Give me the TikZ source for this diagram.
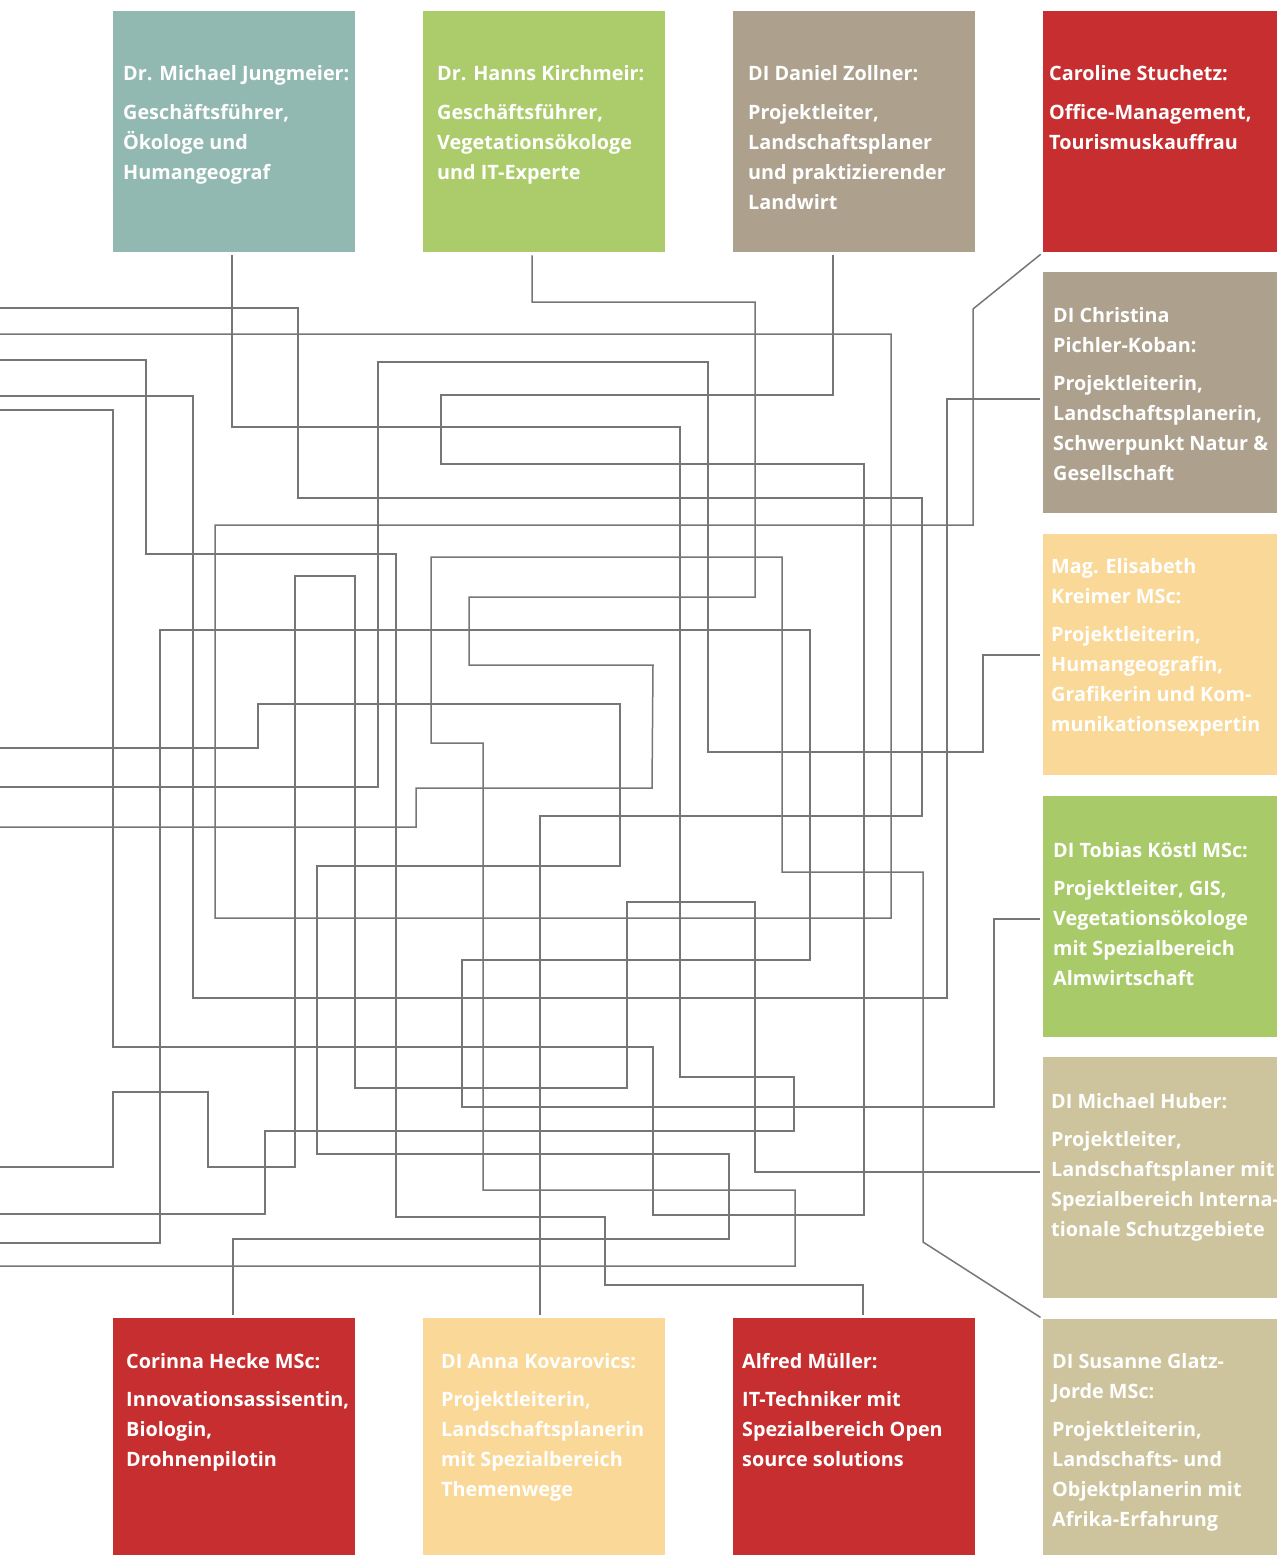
\documentclass[tikz,border=0pt]{standalone}
\usepackage{fontspec}
\setmainfont{Open Sans}
\definecolor{cteal}{HTML}{92B9B1}
\definecolor{cgreen}{HTML}{ACCC6C}
\definecolor{cgreenb}{HTML}{A8CA69}
\definecolor{ctaupe}{HTML}{ADA18D}
\definecolor{cred}{HTML}{C72E30}
\definecolor{cpeach}{HTML}{FAD898}
\definecolor{cbeige}{HTML}{CDC39C}
\definecolor{cline}{HTML}{767676}
\newcommand\tl[4]{\node[txt] (#1) at (#2,#3) {#4};}
\begin{document}
\begin{tikzpicture}[x=1pt,y=-1pt,
  pbox/.style={draw=none,inner sep=0pt,anchor=north west},
  txt/.style={anchor=base west,inner sep=0pt,text=white,font=\fontsize{19.8}{30}\selectfont\bfseries},
  ln/.style={draw=cline,line width=1.5pt,shorten >=3pt}]
\useasboundingbox (0,0) rectangle (1277,1555);
% boxes
\node[pbox,fill=cteal,minimum width=242pt,minimum height=241pt] (jun) at (113,11) {};
\node[pbox,fill=cgreen,minimum width=242pt,minimum height=241pt] (kir) at (423,11) {};
\node[pbox,fill=ctaupe,minimum width=242pt,minimum height=241pt] (zol) at (733,11) {};
\node[pbox,fill=cred,minimum width=234pt,minimum height=241pt] (stu) at (1043,11) {};
\node[pbox,fill=ctaupe,minimum width=234pt,minimum height=241pt] (pk) at (1043,272) {};
\node[pbox,fill=cpeach,minimum width=234pt,minimum height=241pt] (kre) at (1043,534) {};
\node[pbox,fill=cgreenb,minimum width=234pt,minimum height=241pt] (koe) at (1043,796) {};
\node[pbox,fill=cbeige,minimum width=234pt,minimum height=241pt] (hub) at (1043,1057) {};
\node[pbox,fill=cbeige,minimum width=234pt,minimum height=236pt] (gla) at (1043,1319) {};
\node[pbox,fill=cred,minimum width=242pt,minimum height=237pt] (hec) at (113,1318) {};
\node[pbox,fill=cpeach,minimum width=242pt,minimum height=237pt] (kov) at (423,1318) {};
\node[pbox,fill=cred,minimum width=242pt,minimum height=237pt] (mue) at (733,1318) {};
% left free ends
\foreach \n/\y in {1/308,2/334,3/360,4/396,5/410,6/748,7/787,8/827,9/1167,10/1214,11/1243,12/1266}
  \coordinate (L\n) at (0,\y);
% connectors
\draw[ln] (L1) -- (298,308) -- (298,498) -- (922,498) -- (922,816) -- (540,816) -- (kov.north -| 540,0);
\draw[ln] (L2) -- (891,334) -- (891,918) -- (215,918) -- (215,525) -- (973,525) -- (973,309) -- (stu.south west);
\draw[ln] (L3) -- (146,360) -- (146,554) -- (396,554) -- (396,1217) -- (605,1217) -- (605,1285) -- (863,1285) -- (mue.north -| 863,0);
\draw[ln] (L4) -- (193,396) -- (193,998) -- (947,998) -- (947,399) -- (pk.west |- 0,399);
\draw[ln] (L5) -- (113,410) -- (113,1047) -- (653,1047) -- (653,1215) -- (864,1215) -- (864,464) -- (441,464) -- (441,395) -- (833,395) -- (zol.south -| 833,0);
\draw[ln] (L6) -- (258,748) -- (258,704) -- (620,704) -- (620,866) -- (317,866) -- (317,1154) -- (729,1154) -- (729,1239) -- (233,1239) -- (hec.north -| 233,0);
\draw[ln] (L7) -- (378,787) -- (378,362) -- (708,362) -- (708,752) -- (983,752) -- (983,655) -- (kre.west |- 0,655);
\draw[ln] (L8) -- (416,827) -- (416,788) -- (652,788) -- (653,665) -- (469,665) -- (469,597) -- (755,597) -- (755,302) -- (532,302) -- (kir.south -| 532,0);
\draw[ln] (L9) -- (113,1167) -- (113,1092) -- (208,1092) -- (208,1167) -- (295,1167) -- (295,576) -- (355,576) -- (355,1088) -- (627,1088) -- (627,902) -- (755,902) -- (755,1172) -- (hub.west |- 0,1172);
\draw[ln] (L10) -- (265,1214) -- (265,1131) -- (794,1131) -- (794,1077) -- (680,1077) -- (680,427) -- (232,427) -- (jun.south -| 232,0);
\draw[ln] (L11) -- (160,1243) -- (160,630) -- (810,630) -- (810,960) -- (462,960) -- (462,1107) -- (994,1107) -- (994,919) -- (koe.west |- 0,919);
\draw[ln] (L12) -- (795,1266) -- (795,1190) -- (483,1190) -- (483,743) -- (431,743) -- (431,557) -- (782,557) -- (782,872) -- (923,872) -- (923,1242) -- (gla.north west);
% texts
\tl{ja}{123}{81}{Dr. Michael Jungmeier:}
\tl{jb}{123}{119}{Geschäftsführer,}
\tl{jc}{123}{149}{Ökologe und}
\tl{jd}{123}{179}{Humangeograf}
\tl{ka}{437}{81}{Dr. Hanns Kirchmeir:}
\tl{kb}{437}{119}{Geschäftsführer,}
\tl{kc}{437}{149}{Vegetationsökologe}
\tl{kd}{437}{179}{und IT-Experte}
\tl{za}{748}{81}{DI Daniel Zollner:}
\tl{zb}{748}{119}{Projektleiter,}
\tl{zc}{748}{149}{Landschaftsplaner}
\tl{zd}{748}{179}{und praktizierender}
\tl{ze}{748}{209}{Landwirt}
\tl{sa}{1049}{81}{Caroline Stuchetz:}
\tl{sb}{1049}{119}{Office-Management,}
\tl{sc}{1049}{149}{Tourismuskauffrau}
\tl{pa}{1053}{322}{DI Christina}
\tl{pb}{1053}{352}{Pichler-Koban:}
\tl{pc}{1053}{390}{Projektleiterin,}
\tl{pd}{1053}{420}{Landschaftsplanerin,}
\tl{pe}{1053}{450}{Schwerpunkt Natur \&}
\tl{pf}{1053}{480}{Gesellschaft}
\tl{ea}{1051}{573}{Mag. Elisabeth}
\tl{eb}{1051}{603}{Kreimer MSc:}
\tl{ec}{1051}{641}{Projektleiterin,}
\tl{ed}{1051}{671}{Humangeografin,}
\tl{ee}{1051}{701}{Grafikerin und Kom-}
\tl{ef}{1051}{731}{munikationsexpertin}
\tl{ta}{1053}{857}{DI Tobias Köstl MSc:}
\tl{tb}{1053}{895}{Projektleiter, GIS,}
\tl{tc}{1053}{925}{Vegetationsökologe}
\tl{td}{1053}{955}{mit Spezialbereich}
\tl{te}{1053}{985}{Almwirtschaft}
\tl{ha}{1051}{1108}{DI Michael Huber:}
\tl{hb}{1051}{1146}{Projektleiter,}
\tl{hc}{1051}{1176}{Landschaftsplaner mit}
\tl{hd}{1051}{1206}{Spezialbereich Interna-}
\tl{he}{1051}{1236}{tionale Schutzgebiete}
\tl{ga}{1052}{1368}{DI Susanne Glatz-}
\tl{gb}{1052}{1398}{Jorde MSc:}
\tl{gc}{1052}{1436}{Projektleiterin,}
\tl{gd}{1052}{1466}{Landschafts- und}
\tl{ge}{1052}{1496}{Objektplanerin mit}
\tl{gf}{1052}{1526}{Afrika-Erfahrung}
\tl{ca}{126}{1368}{Corinna Hecke MSc:}
\tl{cb}{126}{1406}{Innovationsassisentin,}
\tl{cc}{126}{1436}{Biologin,}
\tl{cd}{126}{1466}{Drohnenpilotin}
\tl{va}{441}{1368}{DI Anna Kovarovics:}
\tl{vb}{441}{1406}{Projektleiterin,}
\tl{vc}{441}{1436}{Landschaftsplanerin}
\tl{vd}{441}{1466}{mit Spezialbereich}
\tl{ve}{441}{1496}{Themenwege}
\tl{ma}{742}{1368}{Alfred Müller:}
\tl{mb}{742}{1406}{IT-Techniker mit}
\tl{mc}{742}{1436}{Spezialbereich Open}
\tl{md}{742}{1466}{source solutions}
\end{tikzpicture}
\end{document}
